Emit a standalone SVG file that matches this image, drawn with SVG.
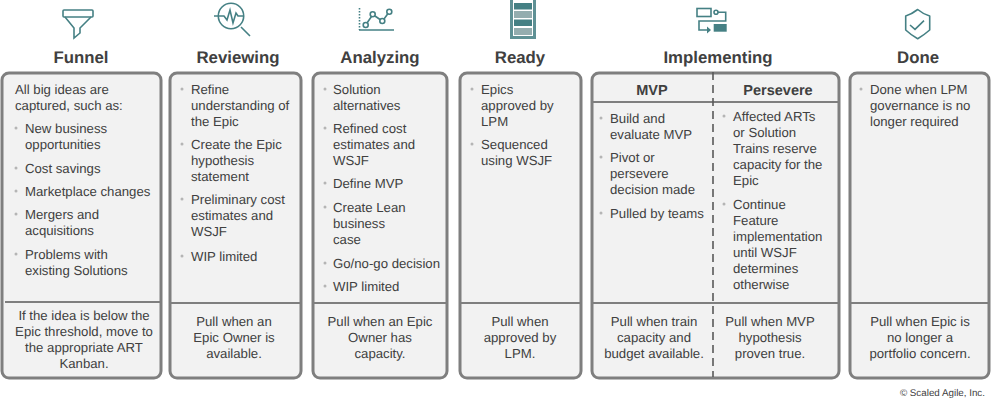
<svg xmlns="http://www.w3.org/2000/svg" width="1000" height="404" viewBox="0 0 1000 404">
<style>
text{font-family:"Liberation Sans",Arial,sans-serif;fill:#404040;font-size:13.2px;text-rendering:geometricPrecision}
.h{font-size:16.8px;font-weight:bold;text-anchor:middle}
.s{font-size:14.5px;font-weight:bold;text-anchor:middle}
.m{text-anchor:middle}
.box{fill:#f2f2f2;stroke:#7f7f7f;stroke-width:3}
.div{stroke:#7f7f7f;stroke-width:2;fill:none}
.dot{fill:#b5b5b5}
.ic{fill:none;stroke:#458084;stroke-width:1.6}
.if{fill:#458084}
.il{fill:#94adaf}
</style>
<defs><circle id="b" r="1.500" class="dot"/></defs>
<g id="connectors"></g>
<g id="funnel">
<rect class="ic" x="63" y="10" width="30" height="7" rx="1"/>
<path class="ic" d="M65 17L74 28V38L80 33V28L91 17"/>
<text class="h" x="81" y="63">Funnel</text>
<rect class="box" x="2" y="73" width="159" height="305" rx="7"/>
<path class="div" d="M5 302H160"/>
<text x="15" y="94">All big ideas are</text><text x="15" y="110">captured, such as:</text>
<use href="#b" x="16" y="128"/><text x="25" y="133">New business</text><text x="25" y="149">opportunities</text>
<use href="#b" x="16" y="168"/><text x="25" y="173">Cost savings</text>
<use href="#b" x="16" y="191"/><text x="25" y="196">Marketplace changes</text>
<use href="#b" x="16" y="214"/><text x="25" y="219">Mergers and</text><text x="25" y="235">acquisitions</text>
<use href="#b" x="16" y="254"/><text x="25" y="259">Problems with</text><text x="25" y="275">existing Solutions</text>
<text class="m" x="84" y="320">If the idea is below the</text><text class="m" x="84" y="336">Epic threshold, move to</text><text class="m" x="84" y="352">the appropriate ART</text><text class="m" x="84" y="368">Kanban.</text>
</g>
<g id="reviewing">
<circle class="ic" cx="231" cy="16" r="12.700"/>
<path class="ic" d="M214 16H224L227 20L230 10L233 23L236 13L238 16H244M241 27L250 36"/>
<text class="h" x="238" y="63">Reviewing</text>
<rect class="box" x="170" y="73" width="131" height="305" rx="7"/>
<path class="div" d="M171 303H300"/>
<use href="#b" x="182" y="89"/><text x="191" y="94">Refine</text><text x="191" y="110">understanding of</text><text x="191" y="126">the Epic</text>
<use href="#b" x="182" y="144"/><text x="191" y="149">Create the Epic</text><text x="191" y="165">hypothesis</text><text x="191" y="181">statement</text>
<use href="#b" x="182" y="199"/><text x="191" y="204">Preliminary cost</text><text x="191" y="220">estimates and</text><text x="191" y="236">WSJF</text>
<use href="#b" x="182" y="256"/><text x="191" y="261">WIP limited</text>
<text class="m" x="234" y="326">Pull when an</text><text class="m" x="234" y="342">Epic Owner is</text><text class="m" x="234" y="358">available.</text>
</g>
<g id="analyzing">
<path class="ic" stroke-dasharray="1.500 1.500" d="M359.500 8V30"/>
<path class="ic" d="M359 30H394"/>
<path class="ic" d="M367 23L371.500 16.500M375 16L380 19.500M384 19L388 13.500"/>
<circle class="ic" cx="365.700" cy="25" r="2.500"/><circle class="ic" cx="372.700" cy="14.300" r="2.500"/><circle class="ic" cx="382.300" cy="21" r="2.500"/><circle class="ic" cx="389.300" cy="11.700" r="2.500"/>
<text class="h" x="380" y="63">Analyzing</text>
<rect class="box" x="313" y="73" width="134" height="305" rx="7"/>
<path class="div" d="M314 303H446"/>
<use href="#b" x="325" y="89"/><text x="333" y="94">Solution</text><text x="333" y="110">alternatives</text>
<use href="#b" x="325" y="128"/><text x="333" y="133">Refined cost</text><text x="333" y="149">estimates and</text><text x="333" y="165">WSJF</text>
<use href="#b" x="325" y="183"/><text x="333" y="188">Define MVP</text>
<use href="#b" x="325" y="207"/><text x="333" y="212">Create Lean</text><text x="333" y="228">business</text><text x="333" y="244">case</text>
<use href="#b" x="325" y="263"/><text x="333" y="268">Go/no-go decision</text>
<use href="#b" x="325" y="286"/><text x="333" y="291">WIP limited</text>
<text class="m" x="380" y="326">Pull when an Epic</text><text class="m" x="380" y="342">Owner has</text><text class="m" x="380" y="358">capacity.</text>
</g>
<g id="ready">
<path d="M511.500 0V37.500H534.500V0" fill="none" stroke="#5f9195" stroke-width="3"/>
<rect x="514" y="3" width="18" height="6.500" class="if"/>
<rect x="514" y="11" width="18" height="7" class="il"/>
<rect x="514" y="19.500" width="18" height="6.500" class="if"/>
<rect x="514" y="28" width="18" height="7" class="il"/>
<text class="h" x="520" y="63">Ready</text>
<rect class="box" x="460" y="73" width="121" height="305" rx="7"/>
<path class="div" d="M461 303H580"/>
<use href="#b" x="472" y="89"/><text x="481" y="94">Epics</text><text x="481" y="110">approved by</text><text x="481" y="126">LPM</text>
<use href="#b" x="472" y="144"/><text x="481" y="149">Sequenced</text><text x="481" y="165">using WSJF</text>
<text class="m" x="520" y="326">Pull when</text><text class="m" x="520" y="342">approved by</text><text class="m" x="520" y="358">LPM.</text>
</g>
<g id="implementing">
<rect class="ic" x="697" y="8.500" width="14" height="8"/>
<circle class="ic" cx="716" cy="12.300" r="2"/>
<path class="ic" d="M718 12.300H725.700V21H699V30H708"/>
<path class="if" d="M707 26.500L711 30L707 33.500Z"/>
<rect class="if" x="713.700" y="24" width="13" height="7.700"/>
<text class="h" x="718" y="63">Implementing</text>
<rect class="box" x="592" y="73" width="247" height="305" rx="7"/>
<path class="div" d="M593 102H838M593 303H838"/>
<path d="M713 72V377" stroke="#595959" stroke-width="1.600" stroke-dasharray="8 5" fill="none"/>
<text class="s" x="652" y="95">MVP</text><text class="s" x="778" y="95">Persevere</text>
<use href="#b" x="601" y="118"/><text x="610" y="123">Build and</text><text x="610" y="139">evaluate MVP</text>
<use href="#b" x="601" y="157"/><text x="610" y="162">Pivot or</text><text x="610" y="178">persevere</text><text x="610" y="194">decision made</text>
<use href="#b" x="601" y="213"/><text x="610" y="218">Pulled by teams</text>
<use href="#b" x="724" y="116"/><text x="733" y="121">Affected ARTs</text><text x="733" y="137">or Solution</text><text x="733" y="153">Trains reserve</text><text x="733" y="169">capacity for the</text><text x="733" y="185">Epic</text>
<use href="#b" x="724" y="204"/><text x="733" y="209">Continue</text><text x="733" y="225">Feature</text><text x="733" y="241">implementation</text><text x="733" y="257">until WSJF</text><text x="733" y="273">determines</text><text x="733" y="289">otherwise</text>
<text class="m" x="654" y="326">Pull when train</text><text class="m" x="654" y="342">capacity and</text><text class="m" x="654" y="358">budget available.</text>
<text class="m" x="770" y="326">Pull when MVP</text><text class="m" x="770" y="342">hypothesis</text><text class="m" x="770" y="358">proven true.</text>
</g>
<g id="done">
<path class="ic" d="M917.700 9.500Q923 14 929.700 16V30Q924 35 917.700 38.700Q911 35 905.700 30V16Q912 14 917.700 9.500Z" stroke-linejoin="round"/>
<path class="ic" d="M910 25L915 29.300L924 20.700"/>
<text class="h" x="918" y="63">Done</text>
<rect class="box" x="850" y="73" width="139" height="305" rx="7"/>
<path class="div" d="M851 303H988"/>
<use href="#b" x="861" y="89"/><text x="870" y="94">Done when LPM</text><text x="870" y="110">governance is no</text><text x="870" y="126">longer required</text>
<text class="m" x="920" y="326">Pull when Epic is</text><text class="m" x="920" y="342">no longer a</text><text class="m" x="920" y="358">portfolio concern.</text>
</g>
<text x="985" y="396" text-anchor="end" style="font-size:9.800px">© Scaled Agile, Inc.</text>
</svg>
